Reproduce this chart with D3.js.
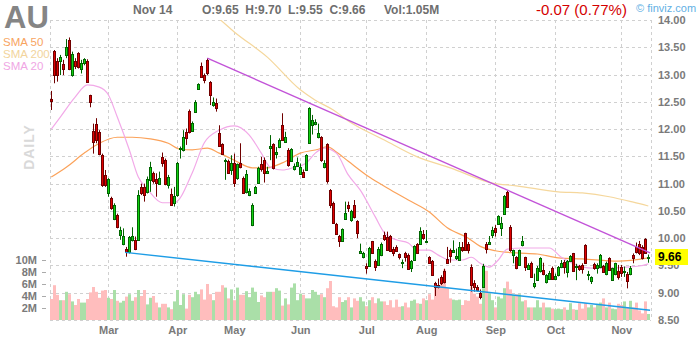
<!DOCTYPE html>
<html>
<head>
<meta charset="utf-8">
<script src="https://cdn.jsdelivr.net/npm/d3@7"></script>
<style>
  body { margin: 0; background: #fff; }
  text { font-family: Arial, "Liberation Sans", sans-serif; }
</style>
</head>
<body>
<div id="chart"></div>
<script>
// daily candles, Feb -> Nov 14
const opens = [12.55,13.44,13.24,13.25,13.20,13.36,13.63,12.99,13.25,13.39,
  13.10,13.22,13.25,12.62,11.96,12.10,11.95,11.52,11.16,10.82,
  10.73,10.36,10.42,10.06,9.89,9.81,9.75,9.97,9.97,9.97,
  10.94,10.94,10.85,11.07,11.19,11.08,11.00,11.49,11.43,10.97,
  10.81,10.64,10.79,11.63,11.62,11.95,12.34,11.97,12.32,12.73,
  13.16,12.99,13.27,12.87,12.45,12.47,11.92,11.73,11.41,11.42,
  11.25,11.37,11.10,11.37,11.10,10.85,10.79,10.24,10.83,11.02,
  11.36,11.44,11.20,11.65,11.73,11.54,11.68,12.07,11.77,11.62,
  11.42,11.26,11.32,11.18,11.22,11.25,11.74,12.08,12.09,11.85,
  11.86,11.31,11.73,10.88,10.65,10.26,10.04,9.95,10.36,10.60,
  10.33,10.61,10.31,9.73,9.66,9.49,9.49,9.94,9.59,9.51,
  9.69,10.06,10.03,10.04,9.81,9.83,9.71,9.54,9.73,9.69,
  9.46,9.60,9.90,9.90,10.08,9.94,9.66,9.59,9.17,9.15,
  9.29,9.40,9.61,9.79,9.75,9.63,9.60,9.84,10.09,9.89,
  9.48,9.17,9.11,8.99,9.11,9.90,9.90,10.06,10.18,10.26,
  10.18,10.45,10.85,10.21,9.69,9.66,9.51,9.87,9.65,9.43,
  9.55,9.12,9.23,9.39,9.42,9.20,9.26,9.45,9.26,9.32,
  9.48,9.57,9.38,9.59,9.72,9.47,9.49,9.51,9.87,9.34,
  9.22,9.53,9.45,9.48,9.49,9.34,9.63,9.24,9.35,9.40,
  9.48,9.39,9.34,9.34,9.69,9.84,9.90,9.83,9.98,9.65]
const highs = [12.70,13.45,13.30,13.36,13.27,13.65,13.68,13.42,13.30,13.41,
  13.27,13.30,13.28,12.63,12.10,12.20,11.98,11.55,11.25,11.10,
  10.76,10.64,10.45,10.21,10.18,9.84,10.04,10.20,10.03,10.88,
  11.00,11.00,11.13,11.40,11.22,11.19,11.22,11.57,11.46,11.16,
  10.91,10.94,11.40,11.68,11.98,12.01,12.36,12.14,12.53,12.84,
  13.22,13.02,13.30,12.88,12.58,12.56,12.07,11.74,11.46,11.44,
  11.52,11.55,11.37,11.74,11.13,11.25,10.91,10.64,10.96,11.31,
  11.49,11.48,11.31,11.89,11.74,11.67,11.83,12.29,11.95,11.65,
  11.65,11.37,11.48,11.37,11.26,11.54,12.40,12.26,12.18,12.10,
  11.87,11.43,11.74,10.90,10.67,10.28,10.06,10.18,10.67,10.67,
  10.52,10.70,10.33,9.90,9.75,9.54,9.84,9.95,9.61,9.84,
  9.92,10.12,10.12,10.06,9.84,9.87,9.72,9.61,9.75,9.72,
  9.60,9.87,9.91,10.20,10.15,10.15,9.67,9.60,9.20,9.26,
  9.32,9.44,9.84,9.81,9.96,9.81,9.93,9.93,10.10,9.93,
  9.52,9.23,9.14,9.06,9.53,9.93,10.04,10.21,10.24,10.42,
  10.39,10.79,10.87,10.24,9.79,9.67,9.79,10.04,9.66,9.54,
  9.57,9.35,9.49,9.65,9.55,9.34,9.40,9.48,9.35,9.49,
  9.60,9.60,9.60,9.69,9.73,9.53,9.51,9.54,9.89,9.40,
  9.30,9.55,9.54,9.71,9.51,9.57,9.65,9.46,9.55,9.51,
  9.51,9.48,9.38,9.49,9.72,9.92,9.95,9.87,10.00,9.70]
const lows = [12.35,12.84,12.87,12.99,12.99,13.30,13.08,12.96,13.10,13.11,
  13.02,13.17,12.86,12.40,11.55,11.74,11.52,10.94,10.94,10.76,
  10.52,10.33,10.18,9.97,9.87,9.66,9.72,9.94,9.78,9.95,
  10.79,10.67,10.82,10.85,11.00,10.76,11.00,11.31,10.97,10.91,
  10.59,10.58,10.76,11.46,11.59,11.71,11.92,11.95,12.30,12.72,
  12.95,12.84,12.99,12.44,12.41,12.32,11.68,11.54,11.07,11.19,
  11.16,10.94,11.07,11.28,10.81,10.82,10.77,10.22,10.82,11.00,
  11.22,11.02,11.19,11.43,11.26,11.46,11.65,11.79,11.75,11.31,
  11.40,11.24,11.31,11.16,11.12,11.24,11.73,11.90,12.07,11.83,
  11.40,11.28,11.00,10.55,10.26,10.06,9.84,9.93,10.34,10.48,
  10.30,10.36,10.00,9.72,9.63,9.35,9.48,9.72,9.40,9.49,
  9.67,9.95,9.77,9.75,9.67,9.75,9.61,9.45,9.57,9.42,
  9.38,9.59,9.71,9.89,9.97,9.92,9.54,9.31,8.94,9.08,
  9.14,9.17,9.53,9.55,9.73,9.60,9.59,9.75,9.78,9.72,
  9.02,9.02,9.02,8.88,9.10,9.72,9.89,10.00,10.03,10.25,
  10.04,10.44,10.56,9.75,9.54,9.43,9.49,9.85,9.40,9.42,
  9.28,9.08,9.22,9.37,9.32,9.17,9.24,9.24,9.24,9.30,
  9.45,9.35,9.28,9.57,9.38,9.23,9.40,9.35,9.53,9.23,
  9.16,9.42,9.35,9.45,9.37,9.32,9.40,9.23,9.32,9.24,
  9.29,9.29,9.08,9.32,9.54,9.72,9.69,9.61,9.72,9.55]
const closes = [12.51,12.99,12.99,13.33,13.11,13.50,13.11,13.38,13.16,13.14,
  13.22,13.28,12.87,12.50,11.77,11.80,11.55,10.97,10.97,11.08,
  10.55,10.61,10.21,10.15,10.04,9.75,10.03,10.04,9.80,10.79,
  10.82,10.79,11.08,11.31,11.04,11.02,11.10,11.37,11.00,11.13,
  10.61,10.77,11.37,11.65,11.86,11.83,11.95,12.12,12.50,12.82,
  12.96,12.90,13.02,12.62,12.50,12.39,11.69,11.55,11.43,11.20,
  11.37,11.02,11.36,11.31,10.82,11.18,10.87,10.61,10.94,11.28,
  11.26,11.20,11.24,11.69,11.28,11.58,11.80,11.80,11.86,11.34,
  11.63,11.32,11.40,11.31,11.13,11.52,12.38,12.17,12.13,11.93,
  11.43,11.38,11.04,10.61,10.27,10.08,9.95,10.16,10.47,10.55,
  10.49,10.39,10.09,9.76,9.72,9.45,9.82,9.73,9.48,9.81,
  9.89,9.98,9.78,9.77,9.72,9.77,9.65,9.56,9.66,9.43,
  9.59,9.86,9.72,10.13,10.00,9.95,9.55,9.32,9.11,9.10,
  9.17,9.20,9.54,9.67,9.78,9.67,9.83,9.78,9.79,9.78,
  9.14,9.11,9.05,8.93,9.49,9.81,9.93,10.15,10.12,10.41,
  10.28,10.77,10.58,9.78,9.78,9.46,9.78,9.95,9.48,9.51,
  9.29,9.18,9.46,9.63,9.34,9.32,9.37,9.26,9.30,9.48,
  9.55,9.48,9.59,9.67,9.40,9.49,9.43,9.43,9.54,9.35,
  9.28,9.45,9.51,9.69,9.38,9.55,9.42,9.45,9.54,9.28,
  9.37,9.40,9.22,9.46,9.63,9.75,9.72,9.63,9.73,9.66]
// volume in millions
const volumes = [3.5,5.8,4.2,3.3,3.3,4.7,4.3,3.1,2.5,3.5,
  2.9,2.9,3.5,4.6,5.5,4.7,3.7,4.9,5.0,3.7,
  3.5,5.0,3.2,2.9,3.2,3.9,4.3,3.2,3.8,5.0,
  4.0,5.0,2.6,3.7,4.0,2.9,2.1,2.7,2.7,2.1,
  1.8,3.1,5.0,2.5,4.3,1.9,4.2,3.8,4.7,4.3,
  5.1,3.4,6.0,4.3,3.3,4.7,4.7,5.8,5.4,3.6,
  5.1,3.3,5.4,4.2,4.2,4.8,3.8,5.4,4.7,3.0,
  4.1,3.8,4.7,4.7,4.7,5.3,4.9,2.4,3.6,2.6,
  5.4,6.1,3.3,4.4,4.2,3.6,3.6,5.0,4.7,4.2,
  4.3,3.8,5.3,6.5,2.3,2.1,3.8,3.0,3.3,3.8,
  2.1,3.6,3.2,3.8,3.1,2.3,3.3,3.8,2.8,3.6,
  3.1,3.1,2.5,3.3,2.1,3.4,2.2,2.3,2.9,2.1,
  3.2,3.4,2.8,2.7,3.6,3.3,4.3,3.4,6.0,5.6,
  6.0,8.4,5.3,3.6,3.4,3.3,3.4,2.5,3.3,3.2,
  5.6,4.4,3.9,2.7,5.3,8.2,4.4,3.3,2.1,3.9,
  3.6,5.3,6.4,5.1,4.2,4.3,4.3,3.1,3.3,2.1,
  2.1,2.1,3.3,2.1,2.9,2.1,2.1,1.9,1.8,1.9,
  1.8,2.1,1.7,2.8,1.8,1.7,2.8,1.9,2.8,2.1,
  2.5,2.1,2.7,2.9,3.6,2.1,2.9,1.9,1.8,2.7,
  2.5,3.1,2.1,3.2,2.1,2.9,1.6,1.1,3.1,1.0]

const monthNames = ["Mar","Apr","May","Jun","Jul","Aug","Sep","Oct","Nov"]
const monthStarts = [19,42,61,83,105,125,148,168,190]
const priceTicks = [8.5,9,9.5,10,10.5,11,11.5,12,12.5,13,13.5,14]
const volTicks = [2,4,6,8,10]

// moving averages as [candle index, price]
const sma20 = [[0,12.0],[3,12.22],[8,12.59],[12,12.81],[16,12.77],[19,12.63],[22,12.22],[26,11.62],
  [29,11.12],[32,10.9],[37,10.65],[41,10.65],[47,11.2],[51,11.75],[56,11.98],[61,12.06],[66,11.89],
  [70,11.56],[73,11.3],[77,11.25],[81,11.3],[85,11.38],[88,11.56],[91,11.65],[95,11.56],[99,11.16],
  [103,10.88],[108,10.39],[111,10.1],[115,9.97],[119,9.91],[122,9.78],[126,9.78],[129,9.69],[133,9.6],
  [137,9.6],[140,9.65],[143,9.54],[146,9.47],[149,9.6],[152,9.8],[157,9.82],[161,9.82],[166,9.82],
  [170,9.65],[175,9.51],[180,9.45],[186,9.45],[191,9.47],[196,9.49],[199,9.53]]
const sma50 = [[0,11.12],[5,11.3],[11,11.56],[16,11.74],[22,11.85],[27,11.85],[33,11.82],[39,11.74],
  [43,11.63],[47,11.62],[52,11.65],[56,11.56],[61,11.43],[67,11.29],[72,11.29],[77,11.38],[83,11.56],
  [89,11.63],[92,11.68],[95,11.58],[99,11.41],[106,11.12],[112,10.92],[119,10.7],[126,10.48],
  [132,10.19],[139,10.0],[143,9.85],[148,9.77],[155,9.73],[162,9.71],[169,9.64],[177,9.62],
  [189,9.58],[199,9.64]]
const sma200 = [[48,14.35],[52,14.2],[56,14.02],[61,13.78],[72,13.32],[83,12.72],[88,12.53],[94,12.35],
  [99,12.15],[111,11.8],[122,11.49],[133,11.29],[147,11.01],[155,10.96],[169,10.85],[177,10.83],
  [186,10.76],[194,10.66],[199,10.59]]

const trendHigh = [[52,13.30],[199.6,9.73]]
const trendLow = [[24.6,9.74],[199.6,8.68]]

const width = 700, height = 340
const plotLeft = 50, plotRight = 651, plotTop = 20, plotBottom = 320

const x = d3.scaleLinear().domain([0, 199]).range([51.3, 648.3])
const y = d3.scaleLinear().domain([8.5, 14]).range([plotBottom, plotTop])
const yVol = d3.scaleLinear().domain([0, 10]).range([plotBottom, 260])

const svg = d3.select("#chart").append("svg")
  .attr("width", width).attr("height", height)

svg.append("defs").append("clipPath").attr("id", "plot")
  .append("rect").attr("x", plotLeft).attr("y", plotTop)
  .attr("width", plotRight - plotLeft).attr("height", plotBottom - plotTop)

// grid
const grid = svg.append("g").attr("stroke", "#d0d0d0").attr("stroke-dasharray", "3,3")
grid.selectAll(".h").data(priceTicks).enter().append("line")
  .attr("x1", plotLeft).attr("x2", plotRight)
  .attr("y1", d => Math.round(y(d)) + 0.5).attr("y2", d => Math.round(y(d)) + 0.5)
const vx = [plotLeft + 0.5, ...monthStarts.map(d => Math.round(x(d)) + 0.5), plotRight + 0.5]
grid.selectAll(".v").data(vx).enter().append("line")
  .attr("x1", d => d).attr("x2", d => d).attr("y1", plotTop).attr("y2", plotBottom)

const idx = d3.range(opens.length)
const up = i => closes[i] >= opens[i]

// volume
svg.append("g").selectAll("rect").data(idx).enter().append("rect")
  .attr("x", i => Math.round(x(i)) - 1)
  .attr("width", 3)
  .attr("y", i => yVol(volumes[i]))
  .attr("height", i => plotBottom - yVol(volumes[i]))
  .attr("fill", i => up(i) ? "#aadfa8" : "#ffbdbd")

// moving averages
const maLine = d3.line().x(d => x(d[0])).y(d => y(d[1])).curve(d3.curveMonotoneX)
const maG = svg.append("g").attr("clip-path", "url(#plot)").attr("fill", "none")
maG.append("path").attr("d", maLine(sma200)).attr("stroke", "#f5d79c").attr("stroke-width", 1.2)
maG.append("path").attr("d", maLine(sma50)).attr("stroke", "#fba25a").attr("stroke-width", 1.2)
maG.append("path").attr("d", maLine(sma20)).attr("stroke", "#f2a9e8").attr("stroke-width", 1.2)

// candles
const candles = svg.append("g")
candles.selectAll("line").data(idx).enter().append("line")
  .attr("x1", i => Math.round(x(i)) + 0.5).attr("x2", i => Math.round(x(i)) + 0.5)
  .attr("y1", i => y(highs[i])).attr("y2", i => y(lows[i]))
  .attr("stroke", i => up(i) ? "#006400" : "#700000")
candles.selectAll("rect").data(idx).enter().append("rect")
  .attr("x", i => Math.round(x(i)) - 0.5)
  .attr("width", 2)
  .attr("y", i => Math.round(y(Math.max(opens[i], closes[i]))) + 0.5)
  .attr("height", i => Math.max(1, Math.round(y(Math.min(opens[i], closes[i]))) - Math.round(y(Math.max(opens[i], closes[i])))))
  .attr("fill", i => up(i) ? "#10d010" : "#e00000")
  .attr("stroke", i => up(i) ? "#006400" : "#700000")

// trend lines
const tl = d3.line().x(d => x(d[0])).y(d => y(d[1]))
svg.append("path").attr("d", tl(trendHigh)).attr("fill", "none").attr("stroke", "#c253d8").attr("stroke-width", 1.4)
svg.append("path").attr("d", tl(trendLow)).attr("fill", "none").attr("stroke", "#1e9de6").attr("stroke-width", 1.4)

// axes
const axisText = g => g.selectAll("text").attr("fill", "#7a7a7a").style("font-size", "11px").style("font-weight", "bold")

const yAxis = svg.append("g").attr("transform", "translate(658,0)")
  .call(d3.axisRight(y).tickValues(priceTicks).tickFormat(d3.format(".2f")).tickSize(0).tickPadding(0))
yAxis.select(".domain").remove()
yAxis.call(axisText)

const vAxis = svg.append("g").attr("transform", "translate(46,0)")
  .call(d3.axisLeft(yVol).tickValues(volTicks).tickFormat(d => d + "M").tickSize(4).tickPadding(5))
vAxis.select(".domain").remove()
vAxis.selectAll("line").attr("stroke", "#aaa")
vAxis.call(axisText)

const xAxis = svg.append("g").attr("transform", "translate(0,322)")
  .call(d3.axisBottom(x).tickValues(monthStarts).tickFormat((d, i) => monthNames[i]).tickSize(0).tickPadding(4))
xAxis.select(".domain").remove()
xAxis.call(axisText)

// last price marker (sits over the 9.50 label, as in the original)
const last = closes[closes.length - 1]
svg.append("rect").attr("x", 655).attr("y", Math.round(y(last)) - 8).attr("width", 33).attr("height", 16).attr("fill", "#ffff00")
svg.append("text").attr("x", 658).attr("y", y(last) + 4.5).text(last.toFixed(2))
  .attr("fill", "#000").style("font-size", "12px").style("font-weight", "bold")

// header
svg.append("text").attr("x", 4).attr("y", 28).text("AU")
  .attr("fill", "#858585").style("font-size", "31px").style("font-weight", "bold")
const header = [["Nov 14", 133], ["O:9.65  H:9.70  L:9.55  C:9.66", 202], ["Vol:1.05M", 384]]
svg.selectAll(".hdr").data(header).enter().append("text")
  .attr("x", d => d[1]).attr("y", 14).text(d => d[0])
  .attr("fill", "#6e6e6e").style("font-size", "12px").style("font-weight", "bold").style("white-space", "pre")
svg.append("text").attr("x", 536).attr("y", 15).text("-0.07 (0.77%)")
  .attr("fill", "#d40000").style("font-size", "15px")
svg.append("text").attr("x", 636).attr("y", 12).text("\u00a9 finviz.com")
  .attr("fill", "#62b0e4").style("font-size", "11px")

const legend = [["SMA 50", "#f8a45f"], ["SMA 200", "#f2d49c"], ["SMA 20", "#f0a6e4"]]
svg.selectAll(".lg").data(legend).enter().append("text")
  .attr("x", 3).attr("y", (d, i) => 46 + i * 12).text(d => d[0])
  .attr("fill", d => d[1]).style("font-size", "11.5px")

svg.append("text").attr("transform", "translate(34,147) rotate(-90)")
  .attr("text-anchor", "middle").text("DAILY")
  .attr("fill", "#d9d9d9").style("font-size", "14px").style("font-weight", "bold").style("letter-spacing", "1px")
</script>
</body>
</html>
